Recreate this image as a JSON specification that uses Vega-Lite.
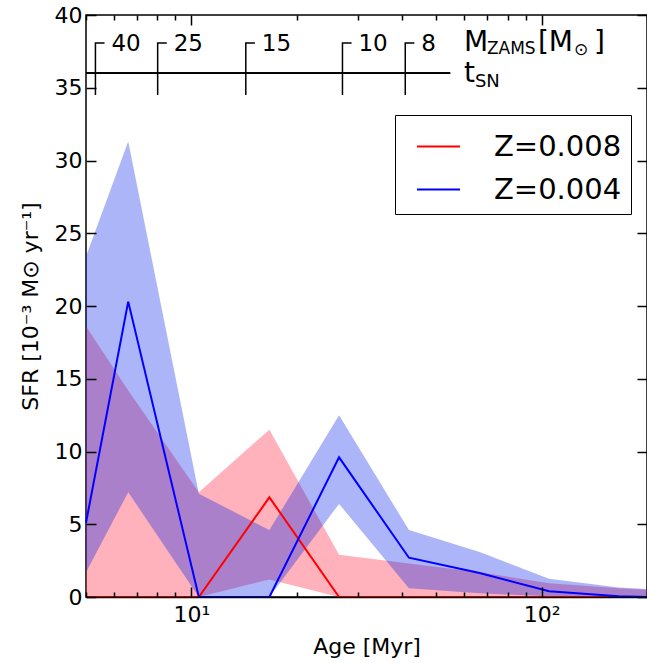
{
  "$schema": "https://vega.github.io/schema/vega-lite/v6.json",
  "width": 561,
  "height": 582,
  "autosize": "none",
  "padding": {"left": 86, "top": 15, "right": 0, "bottom": 66},
  "config": {
    "font": "DejaVu Sans",
    "view": {"stroke": "black", "strokeWidth": 1.5},
    "axis": {"labelFont": "DejaVu Sans", "titleFont": "DejaVu Sans", "labelColor": "black", "titleColor": "black", "tickColor": "black", "titleFontWeight": "normal", "grid": false}
  },
  "datasets": {
    "sfr": [
      {"z": "Z=0.008", "age": 5, "lo": 0, "mid": 0, "hi": 18.6},
      {"z": "Z=0.008", "age": 6.6, "lo": 0, "mid": 0, "hi": 14.2},
      {"z": "Z=0.008", "age": 10.5, "lo": 0, "mid": 0, "hi": 7.2},
      {"z": "Z=0.008", "age": 16.7, "lo": 1.2, "mid": 6.85, "hi": 11.5},
      {"z": "Z=0.008", "age": 26.4, "lo": 0, "mid": 0, "hi": 2.9},
      {"z": "Z=0.008", "age": 41.8, "lo": 0, "mid": 0, "hi": 2.3},
      {"z": "Z=0.008", "age": 66.5, "lo": 0, "mid": 0, "hi": 1.7},
      {"z": "Z=0.008", "age": 105, "lo": 0, "mid": 0, "hi": 0.95},
      {"z": "Z=0.008", "age": 166, "lo": 0, "mid": 0, "hi": 0.6},
      {"z": "Z=0.008", "age": 200, "lo": 0, "mid": 0, "hi": 0.5},
      {"z": "Z=0.004", "age": 5, "lo": 1.7, "mid": 5.1, "hi": 23.4},
      {"z": "Z=0.004", "age": 6.6, "lo": 7.2, "mid": 20.3, "hi": 31.3},
      {"z": "Z=0.004", "age": 10.5, "lo": 0, "mid": 0, "hi": 7.1},
      {"z": "Z=0.004", "age": 16.7, "lo": 0, "mid": 0, "hi": 4.6},
      {"z": "Z=0.004", "age": 26.4, "lo": 6.4, "mid": 9.6, "hi": 12.5},
      {"z": "Z=0.004", "age": 41.8, "lo": 0.6, "mid": 2.7, "hi": 4.6},
      {"z": "Z=0.004", "age": 66.5, "lo": 0.25, "mid": 1.65, "hi": 3.1},
      {"z": "Z=0.004", "age": 105, "lo": 0.05, "mid": 0.4, "hi": 1.25},
      {"z": "Z=0.004", "age": 166, "lo": 0, "mid": 0.05, "hi": 0.65},
      {"z": "Z=0.004", "age": 200, "lo": 0, "mid": 0, "hi": 0.55}
    ],
    "sn": [
      {"mass": "40", "age": 5.32},
      {"mass": "25", "age": 8.01},
      {"mass": "15", "age": 14.3},
      {"mass": "10", "age": 27.0},
      {"mass": "8", "age": 40.8}
    ]
  },
  "resolve": {"axis": {"x": "independent", "y": "independent"}},
  "layer": [
    {
      "data": {"name": "sfr"},
      "transform": [{"filter": "datum.z == 'Z=0.008'"}],
      "mark": {"type": "area", "color": "#ff2040", "opacity": 0.35},
      "encoding": {
        "x": {"field": "age", "type": "quantitative",
              "scale": {"type": "log", "domain": [5, 200], "nice": false},
              "axis": {"orient": "bottom", "title": "Age [Myr]", "titleFontSize": 22, "titlePadding": 6,
                       "values": [5,6,7,8,9,10,20,30,40,50,60,70,80,90,100,200],
                       "labelExpr": "datum.value == 10 ? '10¹' : (datum.value == 100 ? '10²' : '')",
                       "labelFontSize": 22, "labelPadding": 17, "labelFlush": false, "labelOverlap": false,
                       "tickSize": {"condition": {"test": "datum.value == 10 || datum.value == 100", "value": -10}, "value": -5},
                       "tickWidth": 1.5, "domain": true, "domainColor": "black", "domainWidth": 1.5, "zindex": 1}},
        "y": {"field": "lo", "type": "quantitative",
              "scale": {"domain": [0, 40], "nice": false},
              "axis": {"orient": "left", "title": "SFR [10⁻³ M⊙ yr⁻¹]", "titleFontSize": 22, "titlePadding": 12,
                       "values": [0,5,10,15,20,25,30,35,40], "labelFontSize": 22, "labelPadding": 14,
                       "tickSize": -10, "tickWidth": 1.5, "domain": false, "labelFlush": false, "labelOverlap": false, "zindex": 1}},
        "y2": {"field": "hi"}
      }
    },
    {
      "data": {"name": "sfr"},
      "transform": [{"filter": "datum.z == 'Z=0.004'"}],
      "mark": {"type": "area", "color": "#001ee6", "opacity": 0.33},
      "encoding": {
        "x": {"field": "age", "type": "quantitative",
              "axis": {"orient": "top", "title": null, "labels": false, "domain": false,
                       "values": [5,6,7,8,9,10,20,30,40,50,60,70,80,90,100,200],
                       "tickSize": {"condition": {"test": "datum.value == 10 || datum.value == 100", "value": -10}, "value": -5},
                       "tickWidth": 1.5, "zindex": 1}},
        "y": {"field": "lo", "type": "quantitative",
              "axis": {"orient": "right", "title": null, "labels": false, "domain": false,
                       "values": [0,5,10,15,20,25,30,35,40], "tickSize": -10, "tickWidth": 1.5, "zindex": 1}},
        "y2": {"field": "hi"}
      }
    },
    {
      "data": {"name": "sfr"},
      "mark": {"type": "line", "strokeWidth": 2},
      "encoding": {
        "x": {"field": "age", "type": "quantitative", "axis": null},
        "y": {"field": "mid", "type": "quantitative", "axis": null},
        "color": {"field": "z", "type": "nominal",
                  "scale": {"domain": ["Z=0.008", "Z=0.004"], "range": ["#ff0000", "#0000ff"]},
                  "legend": {"title": null, "orient": "none", "legendX": 309, "legendY": 100,
                             "strokeColor": "black", "fillColor": "white", "padding": 9, "cornerRadius": 0,
                             "symbolType": "stroke", "symbolSize": 1849, "symbolStrokeWidth": 2, "symbolOffset": 12,
                             "labelFontSize": 29, "labelFont": "DejaVu Sans", "labelColor": "black", "labelOffset": 33, "rowPadding": 5}}
      }
    },
    {
      "data": {"name": "sn"},
      "mark": {"type": "rule", "color": "black", "strokeWidth": 1.5},
      "encoding": {
        "x": {"datum": 5, "type": "quantitative", "axis": null},
        "x2": {"datum": 54.8},
        "y": {"datum": 36, "type": "quantitative", "axis": null}
      }
    },
    {
      "data": {"name": "sn"},
      "mark": {"type": "point", "shape": "M0,1 L0,-1 L0.35,-1", "size": 2704, "filled": false, "stroke": "black", "strokeWidth": 1.5, "opacity": 1},
      "encoding": {
        "x": {"field": "age", "type": "quantitative", "axis": null},
        "y": {"datum": 36.29, "type": "quantitative", "axis": null}
      }
    },
    {
      "data": {"name": "sn"},
      "mark": {"type": "text", "align": "left", "baseline": "alphabetic", "dx": 16, "fontSize": 23, "color": "black"},
      "encoding": {
        "x": {"field": "age", "type": "quantitative", "axis": null},
        "y": {"datum": 37.55, "type": "quantitative", "axis": null},
        "text": {"field": "mass"}
      }
    },
    {
      "data": {"values": [{}]},
      "mark": {"type": "text", "text": "M", "align": "left", "baseline": "alphabetic", "fontSize": 28, "color": "black"},
      "encoding": {"x": {"datum": 60, "type": "quantitative", "axis": null}, "y": {"datum": 37.5, "type": "quantitative", "axis": null}}
    },
    {
      "data": {"values": [{}]},
      "mark": {"type": "text", "text": "ZAMS", "align": "left", "baseline": "alphabetic", "fontSize": 17, "dx": 23, "dy": 3, "color": "black"},
      "encoding": {"x": {"datum": 60, "type": "quantitative", "axis": null}, "y": {"datum": 37.5, "type": "quantitative", "axis": null}}
    },
    {
      "data": {"values": [{}]},
      "mark": {"type": "text", "text": "[M", "align": "left", "baseline": "alphabetic", "fontSize": 28, "dx": 74, "color": "black"},
      "encoding": {"x": {"datum": 60, "type": "quantitative", "axis": null}, "y": {"datum": 37.5, "type": "quantitative", "axis": null}}
    },
    {
      "data": {"values": [{}]},
      "mark": {"type": "text", "text": "⊙", "align": "left", "baseline": "alphabetic", "fontSize": 17, "dx": 110, "dy": 4, "color": "black"},
      "encoding": {"x": {"datum": 60, "type": "quantitative", "axis": null}, "y": {"datum": 37.5, "type": "quantitative", "axis": null}}
    },
    {
      "data": {"values": [{}]},
      "mark": {"type": "text", "text": "]", "align": "left", "baseline": "alphabetic", "fontSize": 28, "dx": 130, "color": "black"},
      "encoding": {"x": {"datum": 60, "type": "quantitative", "axis": null}, "y": {"datum": 37.5, "type": "quantitative", "axis": null}}
    },
    {
      "data": {"values": [{}]},
      "mark": {"type": "text", "text": "t", "align": "left", "baseline": "alphabetic", "fontSize": 28, "color": "black"},
      "encoding": {"x": {"datum": 60, "type": "quantitative", "axis": null}, "y": {"datum": 35.4, "type": "quantitative", "axis": null}}
    },
    {
      "data": {"values": [{}]},
      "mark": {"type": "text", "text": "SN", "align": "left", "baseline": "alphabetic", "fontSize": 18, "dx": 11, "dy": 5, "color": "black"},
      "encoding": {"x": {"datum": 60, "type": "quantitative", "axis": null}, "y": {"datum": 35.4, "type": "quantitative", "axis": null}}
    }
  ]
}
